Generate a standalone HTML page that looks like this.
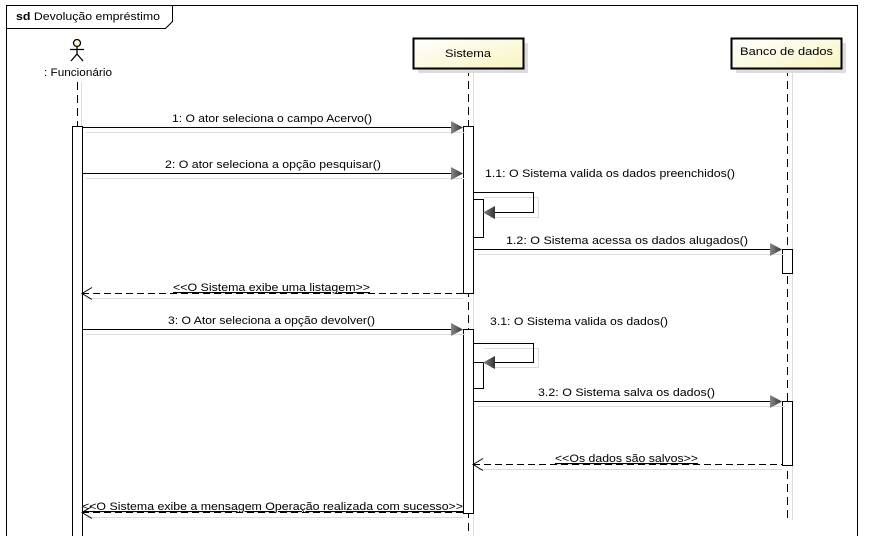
<!DOCTYPE html>
<html><head><meta charset="utf-8"><style>
html,body{margin:0;padding:0;background:#fff;}
svg{display:block;font-family:"Liberation Sans",sans-serif;font-size:11px;}
</style></head><body>
<svg width="880" height="536" viewBox="0 0 880 536" xmlns="http://www.w3.org/2000/svg">
<defs>
<linearGradient id="g" x1="0" y1="0" x2="1" y2="1"><stop offset="0" stop-color="#ffffff"/><stop offset="1" stop-color="#f8f4c0"/></linearGradient>
<linearGradient id="ah" x1="0" y1="0" x2="1" y2="0"><stop offset="0" stop-color="#888"/><stop offset="1" stop-color="#333"/></linearGradient>
</defs>
<rect width="880" height="536" fill="#fff"/>
<!-- frame -->
<path d="M6.5 540 V5.5 H857.5 V540" fill="none" stroke="#000"/>
<path d="M6.5 28.5 H165.5 L172.5 21.5 V5.5" fill="none" stroke="#000"/>
<text x="16" y="20" textLength="144" lengthAdjust="spacingAndGlyphs"><tspan font-weight="bold">sd</tspan> Devolução empréstimo</text>

<!-- actor -->
<circle cx="77" cy="43" r="3.5" fill="#fff8c8" stroke="#000" stroke-width="1.3"/>
<path d="M77 46.5 V54 M70 49.5 H84 M77 54 L71 61 M77 54 L83 61" stroke="#000" stroke-width="1.3" fill="none"/>
<text x="44" y="76" textLength="68" lengthAdjust="spacingAndGlyphs">: Funcionário</text>

<!-- lifelines -->
<line x1="81.5" y1="82" x2="81.5" y2="536" stroke="#ddd"/>
<line x1="77.5" y1="82" x2="77.5" y2="126" stroke="#000" stroke-dasharray="8,5"/>
<line x1="473.5" y1="70" x2="473.5" y2="536" stroke="#ddd"/>
<line x1="468.5" y1="68" x2="468.5" y2="536" stroke="#000" stroke-dasharray="8,5"/>
<line x1="792.5" y1="70" x2="792.5" y2="520" stroke="#ddd"/>
<line x1="787.5" y1="68" x2="787.5" y2="520" stroke="#000" stroke-dasharray="8,5"/>

<!-- boxes -->
<rect x="418" y="43" width="110" height="30" fill="#ddd"/>
<rect x="413.5" y="38.5" width="110" height="30" fill="url(#g)" stroke="#000" stroke-width="2"/>
<text x="445" y="57" textLength="46" lengthAdjust="spacingAndGlyphs">Sistema</text>
<rect x="736" y="43" width="110" height="30" fill="#ddd"/>
<rect x="731.5" y="38.5" width="110" height="30" fill="url(#g)" stroke="#000" stroke-width="2"/>
<text x="740" y="55" textLength="93" lengthAdjust="spacingAndGlyphs">Banco de dados</text>

<!-- activations -->
<rect x="72.5" y="126.5" width="10" height="420" fill="#fff" stroke="#000"/>
<rect x="463.5" y="126.5" width="10" height="167" fill="#fff" stroke="#000"/>
<rect x="473.5" y="199.5" width="10" height="38" fill="#fff" stroke="#000"/>
<rect x="782.5" y="249.5" width="10" height="24" fill="#fff" stroke="#000"/>
<rect x="463.5" y="329.5" width="10" height="184" fill="#fff" stroke="#000"/>
<rect x="473.5" y="362.5" width="10" height="26" fill="#fff" stroke="#000"/>
<rect x="782.5" y="401.5" width="10" height="64" fill="#fff" stroke="#000"/>

<!-- message shadows -->
<g stroke="#ddd" fill="none">
<line x1="86" y1="132.5" x2="465" y2="132.5"/>
<line x1="86" y1="178.5" x2="465" y2="178.5"/>
<line x1="478" y1="254.5" x2="785" y2="254.5"/>
<line x1="86" y1="334.5" x2="465" y2="334.5"/>
<line x1="478" y1="406.5" x2="785" y2="406.5"/>
<path d="M484 197.5 H538.5 V217.5 H490"/>
<path d="M484 348.5 H538.5 V367.5 H490"/>
<line x1="86" y1="298.5" x2="463" y2="298.5"/>
<line x1="478" y1="469.5" x2="782" y2="469.5"/>
<line x1="86" y1="517.5" x2="463" y2="517.5"/>
</g>

<!-- messages -->
<g stroke="#000" fill="none">
<line x1="82" y1="127.5" x2="455" y2="127.5"/>
<line x1="82" y1="173.5" x2="455" y2="173.5"/>
<path d="M473 192.5 H533.5 V212.5 H490"/>
<line x1="473" y1="249.5" x2="774" y2="249.5"/>
<line x1="82" y1="329.5" x2="455" y2="329.5"/>
<path d="M473 343.5 H533.5 V362.5 H490"/>
<line x1="473" y1="401.5" x2="774" y2="401.5"/>
<line x1="82" y1="293.5" x2="463" y2="293.5" stroke-dasharray="7,4"/>
<line x1="473" y1="464.5" x2="782" y2="464.5" stroke-dasharray="7,4"/>
<line x1="82" y1="512.5" x2="463" y2="512.5" stroke-dasharray="7,4"/>
<path d="M92 287.5 L82 293.5 L92 299.5"/>
<path d="M483 458.5 L473 464.5 L483 470.5"/>
<path d="M92 506.5 L82 512.5 L92 518.5"/>
</g>
<!-- filled arrowheads -->
<g fill="url(#ah)">
<path d="M451 121 L463 127.5 L451 134 Z"/>
<path d="M451 167 L463 173.5 L451 180 Z"/>
<path d="M495 206 L483 212.5 L495 219 Z"/>
<path d="M770 243 L782 249.5 L770 256 Z"/>
<path d="M451 323 L463 329.5 L451 336 Z"/>
<path d="M495 356 L483 362.5 L495 369 Z"/>
<path d="M770 395 L782 401.5 L770 408 Z"/>
</g>

<!-- labels -->
<g fill="#000">
<text x="172" y="122" textLength="200" lengthAdjust="spacingAndGlyphs">1: O ator seleciona o campo Acervo()</text>
<text x="165" y="168" textLength="216" lengthAdjust="spacingAndGlyphs">2: O ator seleciona a opção pesquisar()</text>
<text x="485" y="177" textLength="250" lengthAdjust="spacingAndGlyphs">1.1: O Sistema valida os dados preenchidos()</text>
<text x="506" y="244" textLength="242" lengthAdjust="spacingAndGlyphs">1.2: O Sistema acessa os dados alugados()</text>
<text x="173" y="291" textLength="197" lengthAdjust="spacingAndGlyphs" text-decoration="underline">&lt;&lt;O Sistema exibe uma listagem&gt;&gt;</text>
<text x="168" y="324" textLength="207" lengthAdjust="spacingAndGlyphs">3: O Ator seleciona a opção devolver()</text>
<text x="490" y="325" textLength="178" lengthAdjust="spacingAndGlyphs">3.1: O Sistema valida os dados()</text>
<text x="538" y="396" textLength="177" lengthAdjust="spacingAndGlyphs">3.2: O Sistema salva os dados()</text>
<text x="555" y="462" textLength="143" lengthAdjust="spacingAndGlyphs" text-decoration="underline">&lt;&lt;Os dados são salvos&gt;&gt;</text>
<text x="82" y="510" textLength="381" lengthAdjust="spacingAndGlyphs" text-decoration="underline">&lt;&lt;O Sistema exibe a mensagem Operação realizada com sucesso&gt;&gt;</text>
</g>
</svg>
</body></html>
